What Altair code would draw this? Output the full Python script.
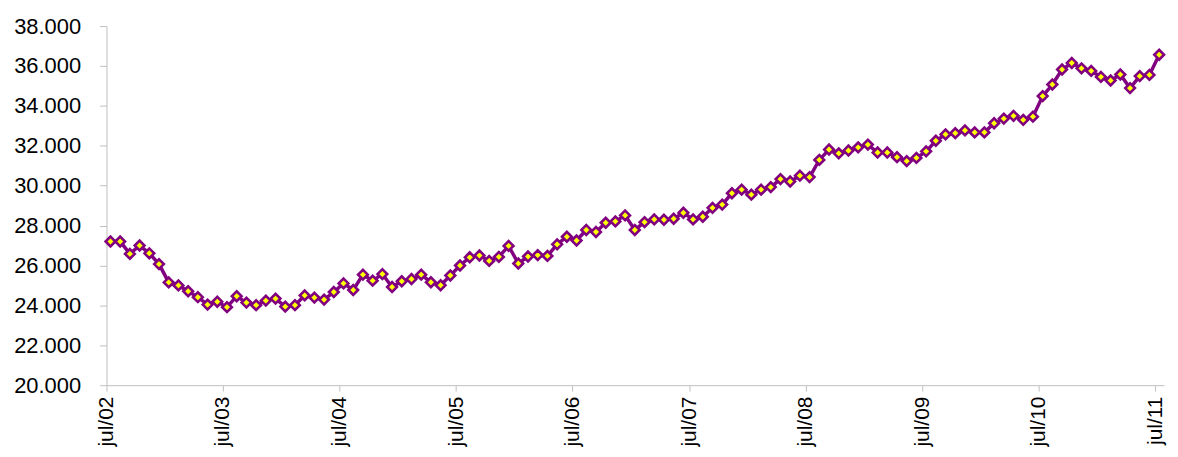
import altair as alt
import pandas as pd

# Monthly values, jul/02 .. jul/11 (109 months)
values = [
    27200, 27200, 26580, 27000, 26610, 26070, 25150, 25000, 24710, 24410, 24040, 24180,
    23910, 24460, 24140, 24010, 24240, 24340, 23940, 24010, 24500, 24390, 24290, 24670,
    25100, 24770, 25540, 25240, 25570, 24920, 25210, 25320, 25540, 25160, 25010, 25500,
    26000, 26410, 26500, 26230, 26430, 26980, 26100, 26450, 26520, 26480, 27060, 27440,
    27250, 27780, 27680, 28140, 28210, 28510, 27780, 28170, 28310, 28290, 28340, 28640,
    28310, 28440, 28890, 29050, 29620, 29800, 29550, 29800, 29930, 30330, 30210, 30500,
    30430, 31290, 31810, 31620, 31760, 31920, 32060, 31660, 31660, 31430, 31230, 31390,
    31720, 32250, 32570, 32630, 32770, 32670, 32670, 33130, 33360, 33500, 33300, 33460,
    34490, 35070, 35820, 36150, 35880, 35750, 35450, 35270, 35570, 34890, 35490, 35550,
    36560,
]
month_index = list(range(len(values)))
tick_labels = ["jul/02", "jul/03", "jul/04", "jul/05", "jul/06",
               "jul/07", "jul/08", "jul/09", "jul/10", "jul/11"]
y_ticks = [20000, 22000, 24000, 26000, 28000, 30000, 32000, 34000, 36000, 38000]

df = pd.DataFrame({"m": month_index, "v": values})

OFF = 0.41
x_ticks = [12 * k - OFF for k in range(len(tick_labels))]
label_arr = "[" + ",".join("'" + t + "'" for t in tick_labels) + "]"

FONT = "Liberation Sans"
AXIS_GRAY = "#BFBFBF"

x = alt.X(
    "m:Q",
    scale=alt.Scale(domain=[-OFF, 108.5], nice=False, zero=False),
    axis=alt.Axis(
        values=x_ticks,
        labelExpr=label_arr + "[round((datum.value + %s) / 12)]" % OFF,
        labelAngle=-90,
        labelFont=FONT,
        labelFontSize=21,
        labelColor="#000000",
        labelPadding=5,
        tickSize=6,
        tickColor=AXIS_GRAY,
        domainColor=AXIS_GRAY,
        grid=False,
        title=None,
        labelOverlap=False,
        labelFlush=False,
    ),
)
y = alt.Y(
    "v:Q",
    scale=alt.Scale(domain=[20000, 38000], nice=False, zero=False),
    axis=alt.Axis(
        values=y_ticks,
        labelExpr="replace(format(datum.value, ','), ',', '.')",
        labelFont=FONT,
        labelFontSize=22,
        labelColor="#000000",
        labelPadding=19,
        tickSize=7,
        tickColor=AXIS_GRAY,
        domainColor=AXIS_GRAY,
        grid=False,
        title=None,
        labelOverlap=False,
    ),
)

line = alt.Chart(df).mark_line(color="#800080", strokeWidth=3.5).encode(x=x, y=y)
pts = alt.Chart(df).mark_point(
    shape="diamond", filled=True, fill="#FFFF00", stroke="#800080",
    strokeWidth=2.6, size=95, opacity=1,
).encode(x=x, y=y)

chart = (
    alt.layer(line, pts)
    .properties(
        width=1063,
        height=361,
        autosize=alt.AutoSizeParams(type="none"),
        padding={"left": 99, "top": 17, "right": 6, "bottom": 62},
    )
    .configure_view(stroke=None)
)

chart.save("out.html", embed_options={"renderer": "svg", "actions": False})
